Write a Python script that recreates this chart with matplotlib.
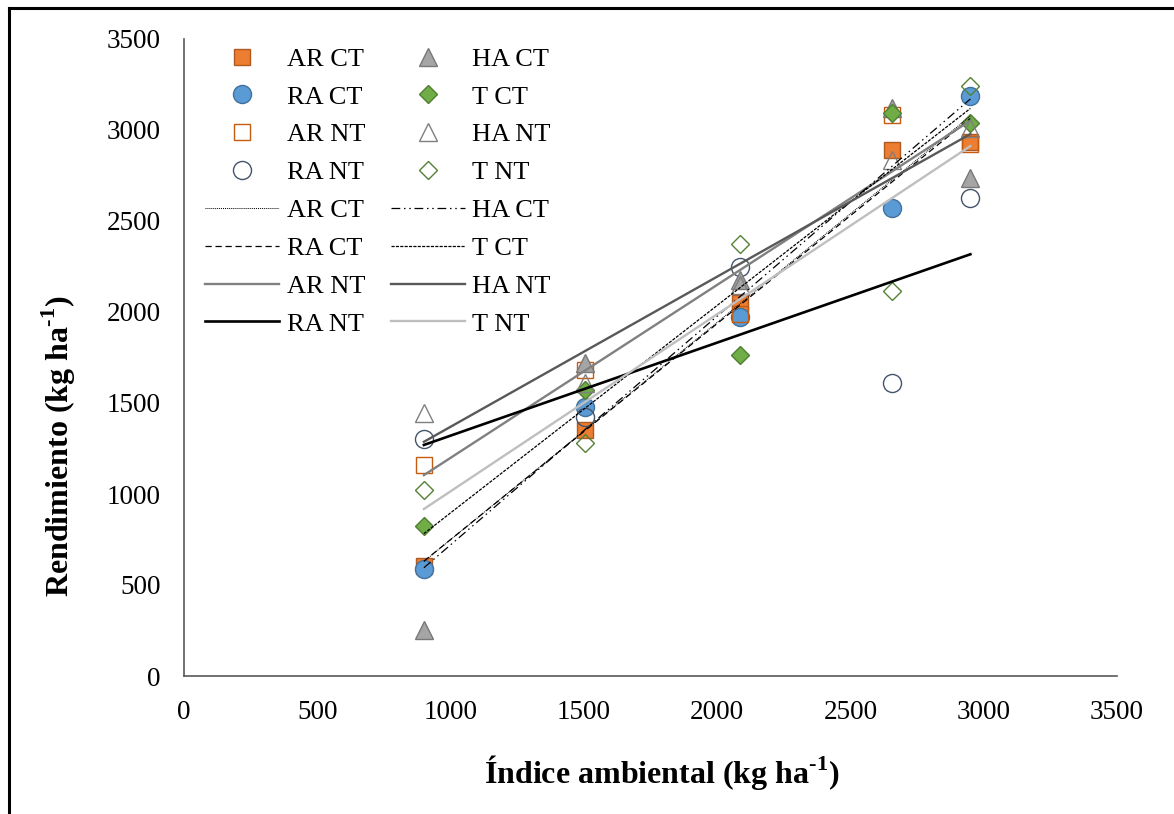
import numpy as np
import matplotlib
matplotlib.use("Agg")
import matplotlib.pyplot as plt
from matplotlib.lines import Line2D

plt.rcParams['font.family'] = ['Liberation Serif', 'DejaVu Serif']
plt.rcParams['mathtext.fontset'] = 'custom'
plt.rcParams['mathtext.rm'] = 'Liberation Serif:bold'
plt.rcParams['mathtext.bf'] = 'Liberation Serif:bold'

# Environmental index (x) and yields per treatment (y), kg/ha
env_index = [900, 1505, 2085, 2657, 2950]
ar_ct = [604, 1352, 2049, 2890, 2934]
ra_ct = [588, 1478, 1972, 2571, 3187]
ar_nt = [1159, 1681, 1990, 3082, 2925]
ra_nt = [1302, 1423, 2247, 1610, 2626]
ha_ct = [253, 1720, 2176, 3121, 2736]
t_ct = [824, 1571, 1764, 3093, 3038]
ha_nt = [1445, 1610, 2150, 2835, 3011]
t_nt = [1022, 1280, 2374, 2115, 3242]

series = [
    ("AR CT", ar_ct), ("RA CT", ra_ct), ("AR NT", ar_nt), ("RA NT", ra_nt),
    ("HA CT", ha_ct), ("T CT", t_ct), ("HA NT", ha_nt), ("T NT", t_nt),
]

# marker styles: (marker, size, face, edge)
MARKERS = {
    "AR CT": ("s", 12, "#ED7D31", "#AE5A21"),
    "RA CT": ("o", 13, "#5B9BD5", "#41719C"),
    "AR NT": ("s", 12, "none", "#C55A11"),
    "RA NT": ("o", 13, "none", "#44546A"),
    "HA CT": ("^", 13, "#A5A5A5", "#787878"),
    "T CT": ("D", 9.5, "#70AD47", "#507E32"),
    "HA NT": ("^", 13, "none", "#7F7F7F"),
    "T NT": ("D", 9.5, "none", "#548235"),
}

# trendline styles: (color, linestyle, linewidth)
TRENDS = {
    "AR CT": ("black", (0, (1, 1)), 0.7),
    "RA CT": ("black", (0, (5, 3)), 0.9),
    "AR NT": ("#808080", "-", 1.7),
    "RA NT": ("black", "-", 1.9),
    "HA CT": ("black", (0, (7, 3, 1.2, 3, 1.2, 3)), 0.9),
    "T CT": ("black", (0, (2.5, 1)), 0.9),
    "HA NT": ("#595959", "-", 1.7),
    "T NT": ("#BFBFBF", "-", 1.7),
}

fig = plt.figure(figsize=(11.74, 8.14), dpi=100)
ax = fig.add_axes([184 / 1174, 1 - 676 / 814, 933 / 1174, 637 / 814])

x = np.array(env_index, dtype=float)
marker_handles = {}
line_handles = {}
for name, vals in series:
    m, ms, fc, ec = MARKERS[name]
    h, = ax.plot(x, vals, linestyle="none", marker=m, markersize=ms,
                 markerfacecolor=fc, markeredgecolor=ec, markeredgewidth=1.0,
                 zorder=3)
    marker_handles[name] = h

# linear trendlines over the observed range
for name, vals in series:
    color, ls, lw = TRENDS[name]
    slope, icpt = np.polyfit(x, vals, 1)
    xs = np.array([x.min(), x.max()])
    h, = ax.plot(xs, slope * xs + icpt, color=color, linestyle=ls,
                 linewidth=lw, zorder=4)
    line_handles[name] = h

ax.set_xlim(0, 3500)
ax.set_ylim(0, 3500)
ax.set_xticks(np.arange(0, 3501, 500))
ax.set_yticks(np.arange(0, 3501, 500))
ax.tick_params(length=0, labelsize=19.5, pad=17)

for side in ("top", "right"):
    ax.spines[side].set_visible(False)
for side in ("left", "bottom"):
    ax.spines[side].set_color("#595959")
    ax.spines[side].set_linewidth(1.2)

col1 = ["AR CT", "RA CT", "AR NT", "RA NT"]
col2 = ["HA CT", "T CT", "HA NT", "T NT"]
handles = ([marker_handles[n] for n in col1] + [line_handles[n] for n in col1] +
           [marker_handles[n] for n in col2] + [line_handles[n] for n in col2])
labels = col1 + col1 + col2 + col2
ax.legend(handles, labels, ncol=2, loc="upper left", frameon=False,
          fontsize=19, bbox_to_anchor=(0.003, 1.016), handlelength=2.8,
          handletextpad=0.3, columnspacing=0.95, labelspacing=0.545,
          borderaxespad=0.3)

fig.text(662 / 1174, 1 - 772 / 814, r"Índice ambiental (kg ha$^{\text{-1}}$)",
         ha="center", va="center", fontsize=23, fontweight="bold")
fig.text(59 / 1174, 1 - 446 / 814, r"Rendimiento (kg ha$^{\text{-1}}$)",
         ha="center", va="center", rotation=90, fontsize=23, fontweight="bold")

# outer frame (left and top edges visible in the crop)
fig.add_artist(Line2D([8.5 / 1174, 8.5 / 1174], [0, 1 - 7.5 / 814],
                      transform=fig.transFigure, color="black", linewidth=2.2))
fig.add_artist(Line2D([8.5 / 1174, 1], [1 - 7.5 / 814, 1 - 7.5 / 814],
                      transform=fig.transFigure, color="black", linewidth=2.2))

fig.savefig("out.png", dpi=100)
